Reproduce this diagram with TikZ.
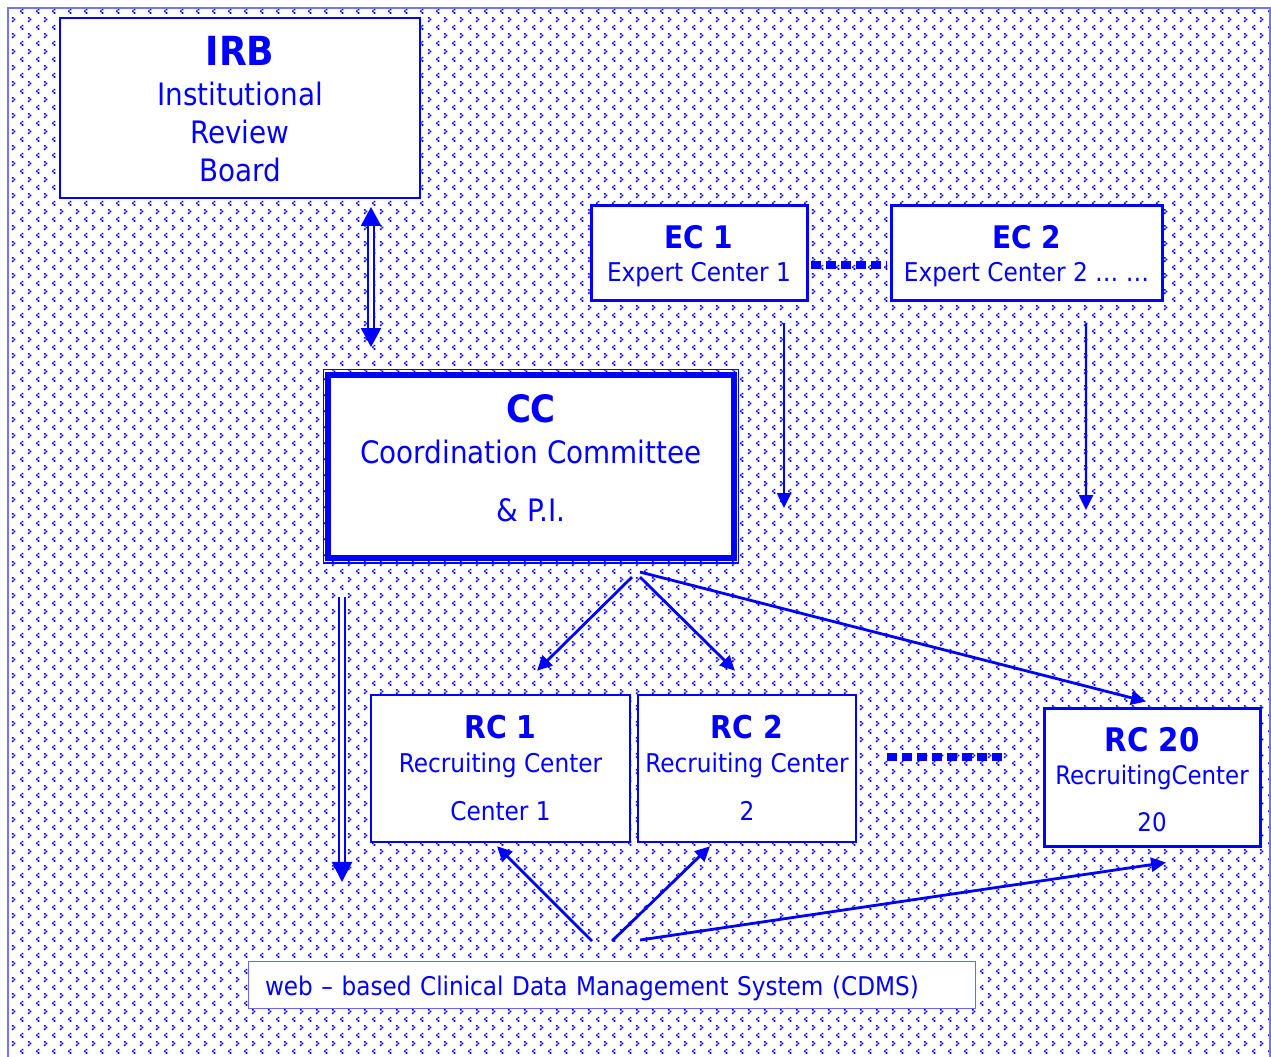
\documentclass[tikz,border=0pt]{standalone}
\usepackage{fontspec}
\setmainfont{DejaVu Sans Condensed}
\usetikzlibrary{positioning, arrows.meta, calc, patterns}

\newdimen\pxu
\pxu=0.02cm

% background tile: small chevrons
\pgfdeclarepatternformonly{chevrons}{\pgfpointorigin}{\pgfqpoint{9.105pt}{9.105pt}}{\pgfqpoint{9.105pt}{9.105pt}}{
  \pgfpathrectangle{\pgfqpoint{3.25pt}{3.7pt}}{\pgfqpoint{0.95pt}{0.95pt}}
  \pgfpathrectangle{\pgfqpoint{2.3pt}{2.75pt}}{\pgfqpoint{0.95pt}{0.95pt}}
  \pgfpathrectangle{\pgfqpoint{3.25pt}{1.8pt}}{\pgfqpoint{0.95pt}{0.95pt}}
  \pgfpathrectangle{\pgfqpoint{6.8pt}{8.15pt}}{\pgfqpoint{0.95pt}{0.95pt}}
  \pgfpathrectangle{\pgfqpoint{7.75pt}{7.2pt}}{\pgfqpoint{0.95pt}{0.95pt}}
  \pgfpathrectangle{\pgfqpoint{6.8pt}{6.25pt}}{\pgfqpoint{0.95pt}{0.95pt}}
  \pgfusepath{fill}
}

\begin{document}
\begin{tikzpicture}[
    x=0.02cm, y=-0.02cm,
    box/.style={rectangle, draw=blue, fill=white, text=blue, line width=2\pxu, align=center, inner sep=0pt, text depth=0pt},
    ccbox/.style={box, line width=6\pxu},
    arr/.style={draw=blue, line width=2.8\pxu, arrows=-{Triangle[length=8.5pt, width=8pt]}},
    dblarr/.style={draw=blue, line width=2.2\pxu, double=white, double distance=3.4\pxu},
    dotline/.style={draw=blue, line width=7.5\pxu, dash pattern=on 10\pxu off 5\pxu}
]
\useasboundingbox (0,0) rectangle (1271,1057);

% Background
\draw[draw=blue!55, line width=1.5\pxu, pattern=chevrons, pattern color=blue] (8,8) rectangle (1270,1064);

% === IRB ===
\node[box, minimum width=360\pxu, minimum height=180\pxu, text height=147\pxu, font=\fontsize{17.6}{21.6}\selectfont] (irb) at (240,108)
    {{\fontsize{22.8}{26}\selectfont\bfseries IRB}\\[1.2pt]Institutional\\Review\\Board};

% === Expert centers ===
\node[box, line width=3\pxu, minimum width=216\pxu, minimum height=95\pxu, text height=57\pxu, font=\fontsize{14.7}{19.3}\selectfont] (ec1) at (699,253.5)
    {{\fontsize{17.7}{20}\selectfont\bfseries EC 1}\\Expert Center 1};
\node[box, line width=3\pxu, minimum width=271\pxu, minimum height=95\pxu, text height=57\pxu, font=\fontsize{14.7}{19.3}\selectfont] (ec2) at (1026.5,253.5)
    {{\fontsize{17.7}{20}\selectfont\bfseries EC 2}\\Expert Center 2 \dots\ \dots};

% === Coordination Committee ===
\node[ccbox, minimum width=405.7\pxu, minimum height=183.5\pxu, text height=110.4\pxu, font=\fontsize{17.6}{23.3}\selectfont] (cc) at (531,466.3)
    {{\fontsize{21.5}{25}\selectfont\bfseries CC}\\Coordination Committee\\[9.7pt]\&~P.I.};
\draw[draw=blue, line width=1.2\pxu] ($(cc.north west)+(-2,-2)$) rectangle ($(cc.south east)+(2,2)$);

% === Recruiting centers ===
\node[box, line width=2.5\pxu, minimum width=259\pxu, minimum height=147\pxu, text height=103.8\pxu, font=\fontsize{14.7}{19.6}\selectfont] (rc1) at (500.5,768.5)
    {{\fontsize{17.9}{20}\selectfont\bfseries RC 1}\\Recruiting Center\\[7.7pt]Center 1};
\node[box, line width=2.5\pxu, minimum width=218\pxu, minimum height=147\pxu, text height=103.8\pxu, font=\fontsize{14.7}{19.6}\selectfont] (rc2) at (747,768.5)
    {{\fontsize{17.9}{20}\selectfont\bfseries RC 2}\\Recruiting Center\\[7.7pt]2};
\node[box, line width=3\pxu, minimum width=216\pxu, minimum height=138\pxu, text height=108.8\pxu, font=\fontsize{14.5}{19}\selectfont] (rc20) at (1152,777)
    {{\fontsize{18.5}{20}\selectfont\bfseries RC 20}\\RecruitingCenter\\[7.7pt]20};

% === CDMS ===
\node[box, draw=blue!60, line width=1\pxu, minimum height=47\pxu, text height=21.8\pxu, text width=693\pxu, inner xsep=17\pxu, align=left, font=\fontsize{14.65}{17}\selectfont] (cdms) at (611.5,984.5)
    {web -- based Clinical Data Management System (CDMS)};

% Free ends
\coordinate (ec1tip) at (784,508);
\coordinate (ec2tip) at (1086,510);

% Dotted links
\draw[dotline] ($(ec1.east)+(2,11.5)$) -- ($(ec2.west)+(-3,11.5)$);
\draw[dotline, line width=8\pxu] ($(rc2.east)+(30,-11.5)$) -- ($(rc20.west)+(-39,-20)$);

% IRB <-> CC
\draw[dblarr, arrows={Triangle[length=10.8pt, width=11.4pt]-Triangle[length=10.8pt, width=11.4pt]}]
    ($(irb.south)+(131,8)$) -- ($(cc.north)+(-160,-24.5)$);

% CC -> CDMS
\draw[dblarr, arrows=-{Triangle[length=11.4pt, width=11.4pt]}]
    ($(cc.south)+(-189,36)$) -- ($(cdms.north)+(-269.5,-78.5)$);

% Expert centers down
\draw[arr, line width=2.2\pxu] ($(ec1.south)+(85,21)$) -- (ec1tip);
\draw[arr, line width=2.2\pxu] ($(ec2.south)+(59.5,21)$) -- (ec2tip);

% CC -> recruiting centers
\draw[arr] ($(cc.south)+(101,16)$) -- ($(rc1.north)+(36.5,-23)$);
\draw[arr] ($(cc.south)+(109,16)$) -- ($(rc2.north)+(-12,-23)$);
\draw[arr] ($(cc.south)+(109,11)$) -- ($(rc20.north)+(-6,-5)$);

% CDMS -> recruiting centers
\draw[arr] ($(cdms.north)+(-19.5,-19.5)$) -- ($(rc1.south)+(-3.5,3)$);
\draw[arr] ($(cdms.north)+(0.5,-19.5)$) -- ($(rc2.south)+(-37,3)$);
\draw[arr] ($(cdms.north)+(28.5,-20.5)$) -- ($(rc20.south)+(14,15)$);

\end{tikzpicture}
\end{document}
